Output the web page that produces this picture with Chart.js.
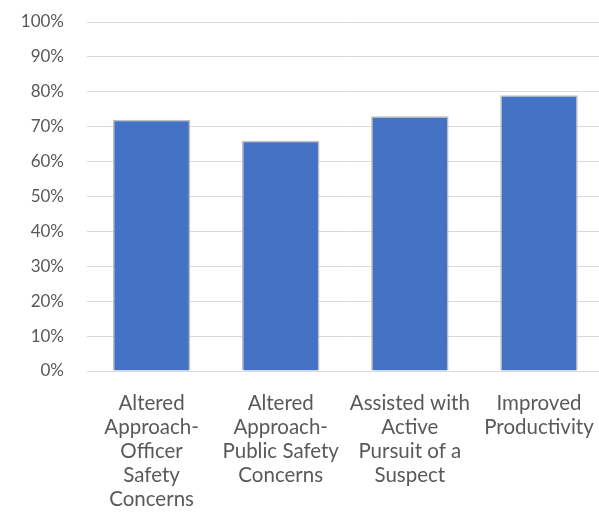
<!DOCTYPE html>
<html>
<head>
<meta charset="utf-8">
<script src="https://cdn.jsdelivr.net/npm/chart.js@4.4.1/dist/chart.umd.min.js"></script>
<style>
    html, body { margin: 0; padding: 0; background: #ffffff; overflow: hidden; }
    #contenedor { width: 606px; height: 527px; }
</style>
</head>
<body>
<div id="contenedor"><canvas id="graficaBarras"></canvas></div>
<script>
const categorias = [
    ["Altered", "Approach-", "Officer", "Safety", "Concerns"],
    ["Altered", "Approach-", "Public Safety", "Concerns"],
    ["Assisted with", "Active", "Pursuit of a", "Suspect"],
    ["Improved", "Productivity"]
];
const porcentajes = [72, 66, 73, 79];
const marcasY = [0, 10, 20, 30, 40, 50, 60, 70, 80, 90, 100];

const colorTexto = '#595959';
const fuenteX = { family: 'Lato, "Open Sans", sans-serif', size: 20.5, lineHeight: '24px' };
const fuenteY = { family: 'Lato, "Open Sans", sans-serif', size: 17, lineHeight: '24px' };

const ctx = document.getElementById('graficaBarras').getContext('2d');
const grafica = new Chart(ctx, {
    type: 'bar',
    data: {
        labels: categorias,
        datasets: [{
            data: porcentajes,
            backgroundColor: '#4472C4',
            borderColor: '#bfbfbf',
            borderWidth: 1.5,
            barPercentage: 0.6,
            categoryPercentage: 1
        }]
    },
    options: {
        responsive: true,
        maintainAspectRatio: false,
        animation: false,
        layout: { padding: { top: 22, right: 2, left: 0, bottom: 0 } },
        plugins: {
            legend: { display: false },
            tooltip: { enabled: false }
        },
        scales: {
            x: {
                grid: { display: false },
                border: { display: true, color: '#d9d9d9', width: 1 },
                ticks: {
                    color: colorTexto,
                    font: fuenteX,
                    maxRotation: 0,
                    autoSkip: false,
                    padding: 12
                },
                afterFit: (escala) => { escala.height = 156; }
            },
            y: {
                min: 0,
                max: 100,
                afterBuildTicks: (escala) => {
                    escala.ticks = marcasY.map(v => ({ value: v }));
                },
                grid: { color: '#d9d9d9', lineWidth: 1, drawTicks: false },
                border: { display: false },
                ticks: {
                    color: colorTexto,
                    font: fuenteY,
                    padding: 23,
                    callback: (valor) => valor + '%'
                },
                afterFit: (escala) => {
                    escala.width = 87;
                    escala.paddingTop = 0;
                    escala.paddingBottom = 0;
                }
            }
        }
    }
});
</script>
</body>
</html>
